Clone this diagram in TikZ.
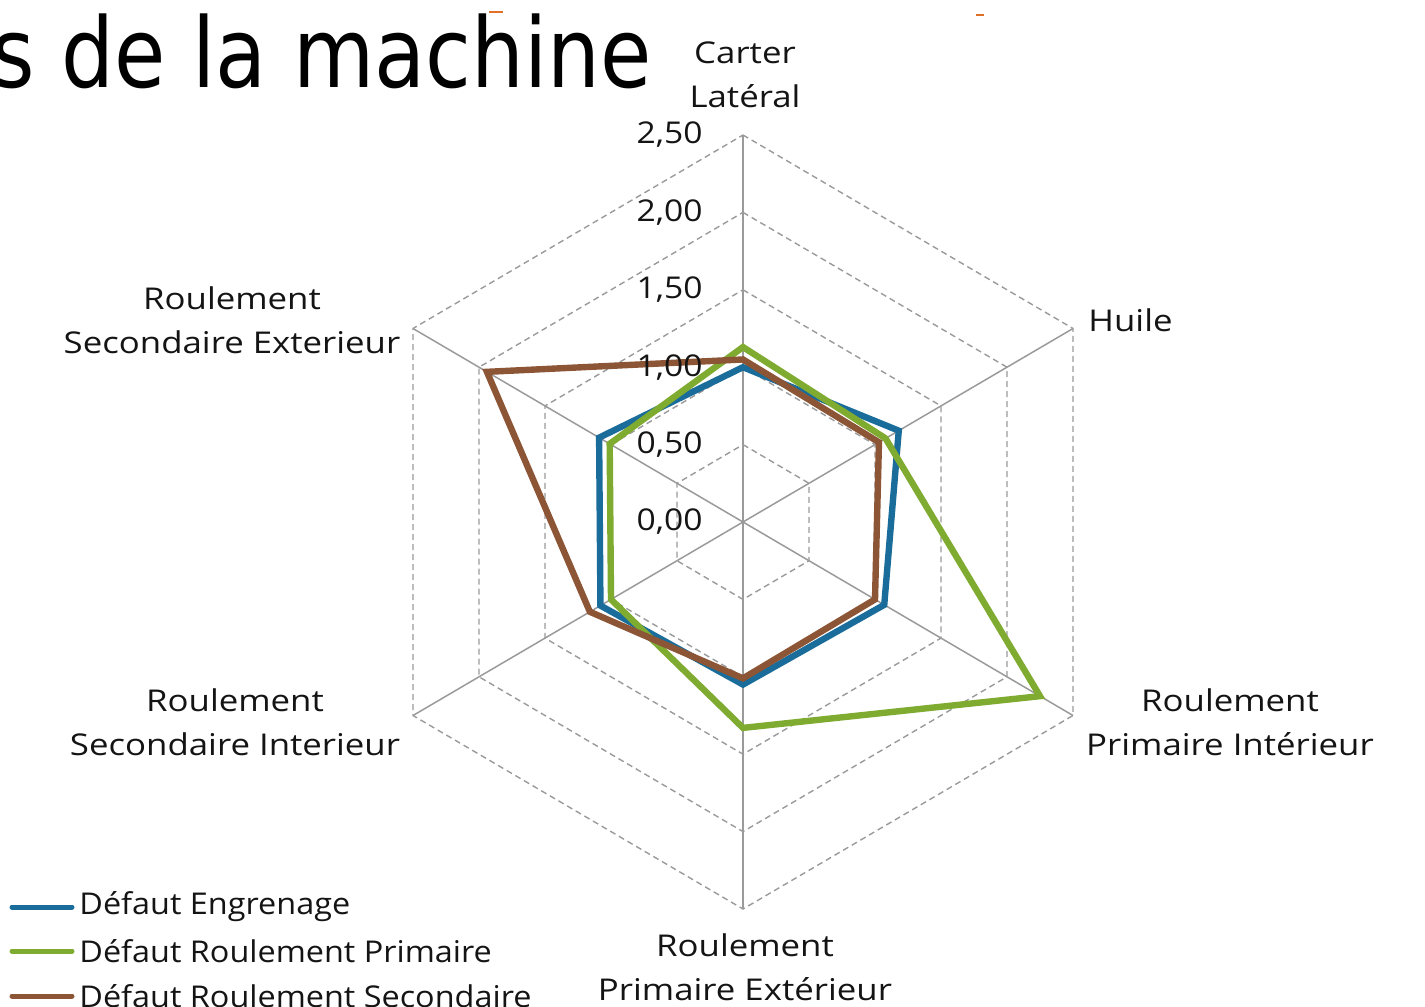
\documentclass[tikz,border=0pt]{standalone}
\usepackage{fontspec}
\setmainfont{Open Sans}[FakeStretch=1.12]
\newfontfamily\axisfont{Open Sans}[FakeStretch=1.16]
\newfontfamily\legfont{Open Sans}[FakeStretch=1.08]
\newfontfamily\titlefont{DejaVu Sans}[FakeStretch=0.86]
\usetikzlibrary{calc}
\definecolor{serblue}{HTML}{1A6C9A}
\definecolor{sergreen}{HTML}{7EAB30}
\definecolor{serbrown}{HTML}{8C5535}
\definecolor{gridgray}{HTML}{9A9A9A}
\definecolor{markorange}{HTML}{E07028}
\begin{document}
\begin{tikzpicture}[x=0.5pt,y=-0.5pt,
  gridline/.style={draw=gridgray, line width=0.7pt, dash pattern=on 3pt off 2pt},
  axisline/.style={draw=gridgray, line width=0.75pt},
  series/.style={line width=3.2pt, line join=miter},
  lab/.style={font=\axisfont\fontsize{15}{22}\selectfont, text=black!92, align=center, inner sep=0pt},
  legtext/.style={font=\legfont\fontsize{15}{22}\selectfont, text=black!92, anchor=west, inner sep=0pt},
  tick/.style={font=\fontsize{15}{18}\selectfont, text=black!92, anchor=east, inner sep=0pt},
  legline/.style={line width=2.5pt, line cap=round}]
\useasboundingbox (0,0) rectangle (1425,1007);
\clip (0,0) rectangle (1425,1007);
% title (cropped as in the reference)
\node[font=\titlefont\fontsize{48.5}{50}\selectfont, anchor=base east, inner sep=0pt] (title) at (652,87) {s de la machine};
\coordinate (o1a) at (489,12); \coordinate (o1b) at (503,12);
\coordinate (o2a) at (976,15); \coordinate (o2b) at (984,15);
\draw[markorange, line width=1.2pt] (o1a) -- (o1b);
\draw[markorange, line width=1.2pt] (o2a) -- (o2b);
% radar geometry
\coordinate (C) at (743,522);
\coordinate (u0) at (743,367.2);
\coordinate (u1) at (875,444.6);
\coordinate (u2) at (875,599.4);
\coordinate (u3) at (743,676.8);
\coordinate (u4) at (611,599.4);
\coordinate (u5) at (611,444.6);
\foreach \v in {0.5,1,1.5,2,2.5}{
  \draw[gridline] ($(C)!\v!(u0)$) -- ($(C)!\v!(u1)$) -- ($(C)!\v!(u2)$) -- ($(C)!\v!(u3)$) -- ($(C)!\v!(u4)$) -- ($(C)!\v!(u5)$) -- cycle;
}
\foreach \k in {0,...,5}{
  \draw[axisline] (C) -- ($(C)!2.5!(u\k)$);
}
% series
\draw[series, serblue] ($(C)!1.00!(u0)$) -- ($(C)!1.18!(u1)$) -- ($(C)!1.07!(u2)$) -- ($(C)!1.05!(u3)$) -- ($(C)!1.08!(u4)$) -- ($(C)!1.09!(u5)$) -- cycle;
\draw[series, sergreen] ($(C)!1.13!(u0)$) -- ($(C)!1.08!(u1)$) -- ($(C)!2.25!(u2)$) -- ($(C)!1.33!(u3)$) -- ($(C)!1.00!(u4)$) -- ($(C)!1.01!(u5)$) -- cycle;
\draw[series, serbrown] ($(C)!1.05!(u0)$) -- ($(C)!1.03!(u1)$) -- ($(C)!1.00!(u2)$) -- ($(C)!1.01!(u3)$) -- ($(C)!1.16!(u4)$) -- ($(C)!1.94!(u5)$) -- cycle;
% tick labels
\node[tick] (t0) at (703,522) {0,00};
\node[tick] (t1) at (703,444.6) {0,50};
\node[tick] (t2) at (703,367.2) {1,00};
\node[tick] (t3) at (703,289.8) {1,50};
\node[tick] (t4) at (703,212.4) {2,00};
\node[tick] (t5) at (703,135) {2,50};
% axis labels
\node[lab] (a0) at (745,75) {Carter\\Latéral};
\node[lab, anchor=west] (a1) at (1088,320) {Huile};
\node[lab] (a2) at (1230,722) {Roulement\\Primaire Intérieur};
\node[lab] (a3) at (745,967) {Roulement\\Primaire Extérieur};
\node[lab] (a4) at (235,722) {Roulement\\Secondaire Interieur};
\node[lab] (a5) at (232,320) {Roulement\\Secondaire Exterieur};
% legend
\coordinate (l1a) at (12,907); \coordinate (l1b) at (72,907);
\coordinate (l2a) at (12,951); \coordinate (l2b) at (72,951);
\coordinate (l3a) at (12,996); \coordinate (l3b) at (72,996);
\draw[legline, serblue] (l1a) -- (l1b);
\draw[legline, sergreen] (l2a) -- (l2b);
\draw[legline, serbrown] (l3a) -- (l3b);
\node[legtext] (g1) at (79,907) {Défaut Engrenage};
\node[legtext] (g2) at (79,951) {Défaut Roulement Primaire};
\node[legtext] (g3) at (79,996) {Défaut Roulement Secondaire};
\end{tikzpicture}
\end{document}
